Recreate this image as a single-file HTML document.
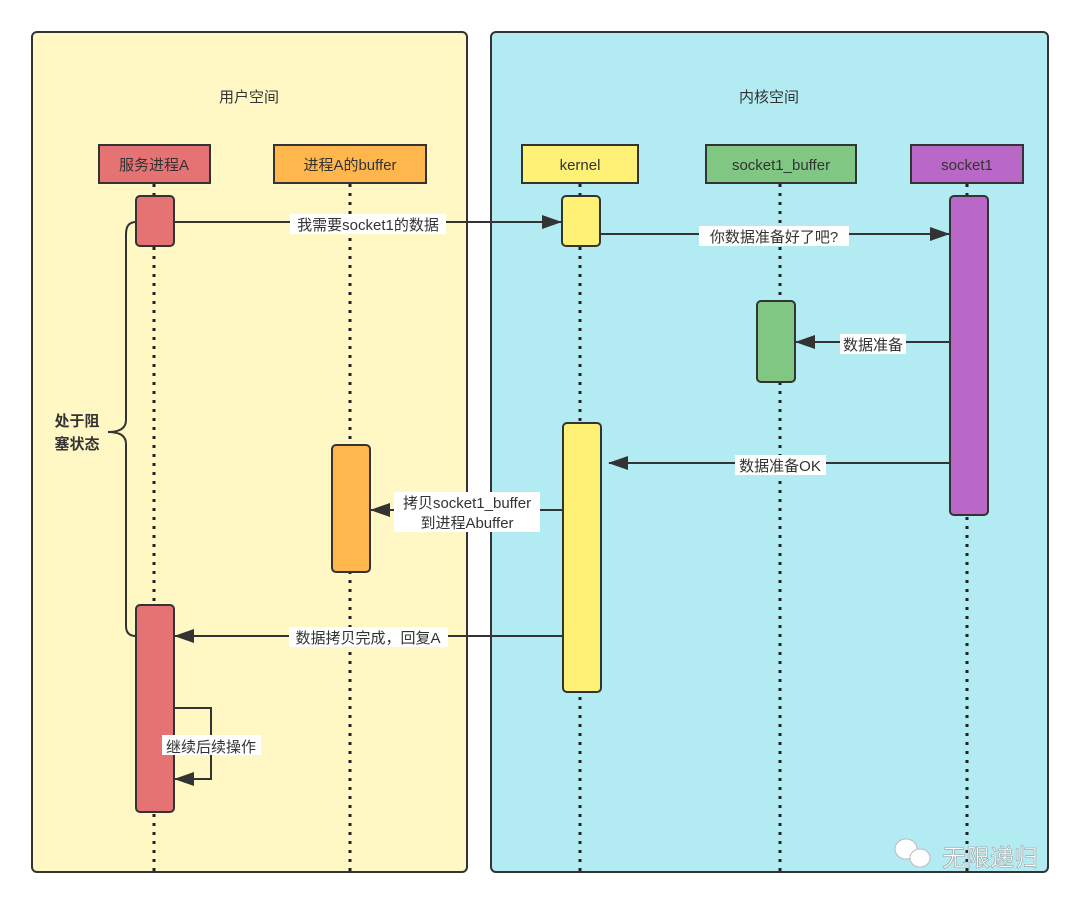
<!DOCTYPE html>
<html><head><meta charset="utf-8"><style>
html,body{margin:0;padding:0;background:#fff;}
svg text{font-family:"Liberation Sans","Noto Sans CJK SC",sans-serif;fill:#333;}
</style></head><body>
<svg width="1080" height="904" viewBox="0 0 1080 904" xmlns="http://www.w3.org/2000/svg">
<defs>
<marker id="ar" markerWidth="20" markerHeight="14" refX="19" refY="7" orient="auto" markerUnits="userSpaceOnUse">
<path d="M0,0 L20,7 L0,14 Z" fill="#333"/></marker>
</defs>
<rect x="32" y="32" width="435" height="840" rx="5" fill="#FFF8C5" stroke="#333" stroke-width="2"/>
<rect x="491" y="32" width="557" height="840" rx="5" fill="#B3EBF2" stroke="#333" stroke-width="2"/>
<text x="249" y="102" font-size="15" text-anchor="middle">用户空间</text>
<text x="769" y="102" font-size="15" text-anchor="middle">内核空间</text>
<g stroke="#222" stroke-width="3" stroke-dasharray="3,6">
<line x1="154" y1="184" x2="154" y2="872"/>
<line x1="350" y1="184" x2="350" y2="872"/>
<line x1="580" y1="184" x2="580" y2="872"/>
<line x1="780" y1="184" x2="780" y2="872"/>
<line x1="967" y1="184" x2="967" y2="872"/>
</g>
<g stroke="#333" stroke-width="2" font-size="15">
<rect x="99" y="145" width="111" height="38" fill="#E57373"/>
<rect x="274" y="145" width="152" height="38" fill="#FFB74D"/>
<rect x="522" y="145" width="116" height="38" fill="#FFF176"/>
<rect x="706" y="145" width="150" height="38" fill="#81C784"/>
<rect x="911" y="145" width="112" height="38" fill="#BA68C8"/>
</g>
<g font-size="15" text-anchor="middle">
<text x="154" y="170">服务进程A</text>
<text x="350" y="170">进程A的buffer</text>
<text x="580" y="170">kernel</text>
<text x="781" y="170">socket1_buffer</text>
<text x="967" y="170">socket1</text>
</g>
<path d="M136,222 Q126,222 126,234 L126,420 Q126,432 108,432 Q126,432 126,444 L126,626 Q126,636 136,636" fill="none" stroke="#333" stroke-width="2"/>
<text x="77" y="426" font-size="15" font-weight="bold" text-anchor="middle">处于阻</text>
<text x="77" y="449" font-size="15" font-weight="bold" text-anchor="middle">塞状态</text>
<g stroke="#333" stroke-width="2">
<rect x="136" y="196" width="38" height="50" rx="4" fill="#E57373"/>
<rect x="562" y="196" width="38" height="50" rx="4" fill="#FFF176"/>
<rect x="950" y="196" width="38" height="319" rx="4" fill="#BA68C8"/>
<rect x="757" y="301" width="38" height="81" rx="4" fill="#81C784"/>
<rect x="563" y="423" width="38" height="269" rx="4" fill="#FFF176"/>
<rect x="332" y="445" width="38" height="127" rx="4" fill="#FFB74D"/>
<rect x="136" y="605" width="38" height="207" rx="4" fill="#E57373"/>
</g>
<g stroke="#333" stroke-width="2" fill="none" marker-end="url(#ar)">
<line x1="174" y1="222" x2="561" y2="222"/>
<line x1="600" y1="234" x2="949" y2="234"/>
<line x1="950" y1="342" x2="796" y2="342"/>
<line x1="950" y1="463" x2="609" y2="463"/>
<line x1="563" y1="510" x2="371" y2="510"/>
<line x1="563" y1="636" x2="175" y2="636"/>
<polyline points="174,708 211,708 211,779 175,779"/>
</g>
<g font-size="15" text-anchor="middle">
<rect x="290" y="214" width="156" height="20" fill="#fff"/><text x="368" y="230">我需要socket1的数据</text>
<rect x="699" y="226" width="150" height="20" fill="#fff"/><text x="774" y="242">你数据准备好了吧?</text>
<rect x="840" y="334" width="66" height="20" fill="#fff"/><text x="873" y="350">数据准备</text>
<rect x="735" y="455" width="91" height="20" fill="#fff"/><text x="780" y="471">数据准备OK</text>
<rect x="394" y="492" width="146" height="40" fill="#fff"/><text x="467" y="508">拷贝socket1_buffer</text><text x="467" y="528">到进程Abuffer</text>
<rect x="289" y="627" width="159" height="20" fill="#fff"/><text x="368" y="643">数据拷贝完成，回复A</text>
<rect x="162" y="735" width="99" height="20" fill="#fff"/><text x="211" y="752">继续后续操作</text>
</g>
<g fill="#fff" stroke="#bbb" stroke-width="1">
<ellipse cx="906" cy="849" rx="11" ry="10"/>
<ellipse cx="920" cy="858" rx="10" ry="9"/>
</g>
<text x="990" y="866" font-size="24" text-anchor="middle" style="fill:#fff;stroke:#999;stroke-width:0.6">无限递归</text>
</svg>
</body></html>
